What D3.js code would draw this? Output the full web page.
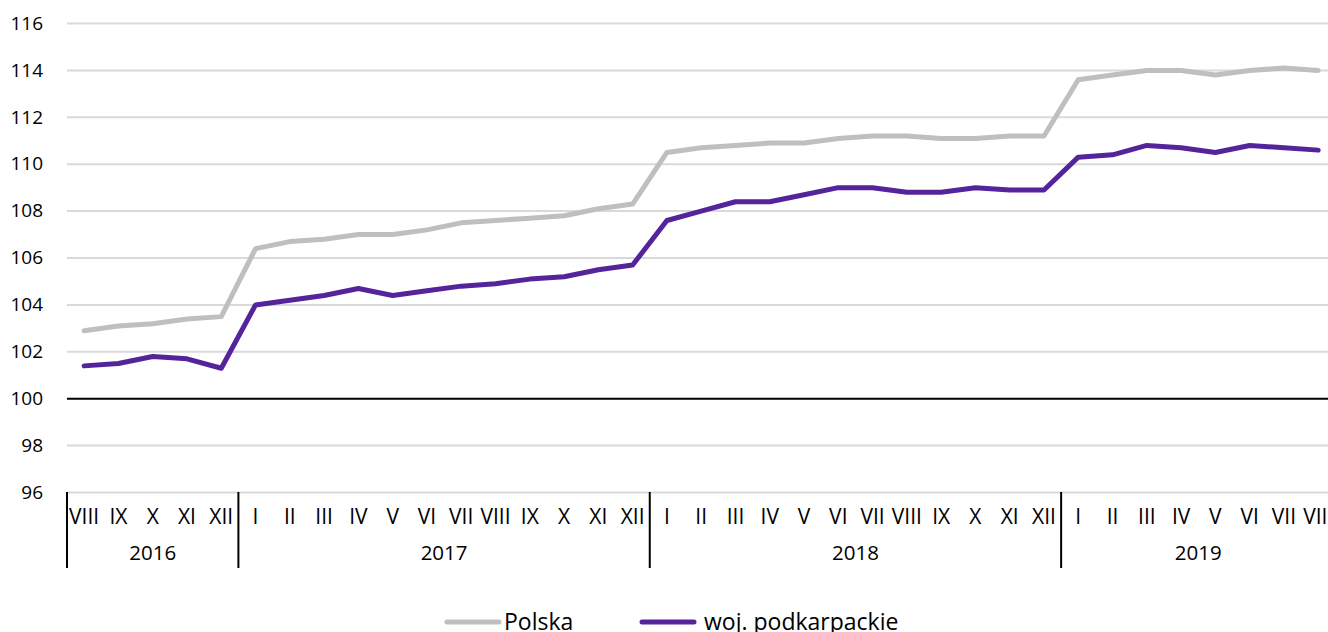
<!DOCTYPE html>
<html><head><meta charset="utf-8">
<script src="https://cdn.jsdelivr.net/npm/d3@7"></script>
<style>html,body{margin:0;padding:0;background:#fff;overflow:hidden}svg{display:block}</style>
</head><body><svg id="c" width="1328" height="632"></svg>
<script>
const years = [
  {year: "2016", months: ["VIII","IX","X","XI","XII"]},
  {year: "2017", months: ["I","II","III","IV","V","VI","VII","VIII","IX","X","XI","XII"]},
  {year: "2018", months: ["I","II","III","IV","V","VI","VII","VIII","IX","X","XI","XII"]},
  {year: "2019", months: ["I","II","III","IV","V","VI","VII","VIII"]}
];
const polska = [102.9,103.1,103.2,103.4,103.5,
  106.4,106.7,106.8,107.0,107.0,107.2,107.5,107.6,107.7,107.8,108.1,108.3,
  110.5,110.7,110.8,110.9,110.9,111.1,111.2,111.2,111.1,111.1,111.2,111.2,
  113.6,113.8,114.0,114.0,113.8,114.0,114.1,114.0];
const podkarpackie = [101.4,101.5,101.8,101.7,101.3,
  104.0,104.2,104.4,104.7,104.4,104.6,104.8,104.9,105.1,105.2,105.5,105.7,
  107.6,108.0,108.4,108.4,108.7,109.0,109.0,108.8,108.8,109.0,108.9,108.9,
  110.3,110.4,110.8,110.7,110.5,110.8,110.7,110.6];
const yTicks = [96,98,100,102,104,106,108,110,112,114,116];
const seriesNames = ["Polska","woj. podkarpackie"];

const cats = [];
years.forEach(y => y.months.forEach(m => cats.push({key: y.year + "-" + m, m, y: y.year})));

const svg = d3.select("#c");
const font = "'Open Sans', 'Noto Sans', sans-serif";
const x0 = 67, bw = 34.28;
const x = d3.scaleBand().domain(cats.map(c => c.key)).range([x0, x0 + bw * cats.length]).paddingInner(0).paddingOuter(0);
const y = d3.scaleLinear().domain([96,116]).range([492.5, 23.5]);

// gridlines
svg.append("g").selectAll("line").data(yTicks).join("line")
  .attr("x1", x0).attr("x2", 1328)
  .attr("y1", d => y(d)).attr("y2", d => y(d))
  .attr("stroke", d => d === 100 ? "#000" : "#d9d9d9")
  .attr("stroke-width", 2);

// y labels
const yAxis = d3.axisLeft(y).tickValues(yTicks).tickSize(0).tickPadding(0).tickFormat(d3.format("d"));
const ya = svg.append("g").attr("transform", "translate(43,0)").call(yAxis);
ya.select(".domain").remove();
ya.selectAll("text").attr("font-family", font).attr("font-size", 19).attr("fill", "#000").attr("dy", "0.3em");

// month labels
const xAxis = d3.axisBottom(x).tickSize(0).tickPadding(0).tickFormat(k => k.split("-")[1]);
const xa = svg.append("g").attr("transform", "translate(0,517)").call(xAxis);
xa.select(".domain").remove();
xa.selectAll("text").attr("font-family", font).attr("font-size", 21).attr("fill", "#000").attr("dy", "0.35em");

// year separators and labels
let idx = 0;
const bounds = [];
years.forEach(yr => { bounds.push({year: yr.year, start: idx, end: idx + yr.months.length}); idx += yr.months.length; });
const sepX = [bounds[0].start].concat(bounds.map(b => b.end));
svg.append("g").selectAll("line").data(sepX.slice(0, 4)).join("line")
  .attr("x1", i => x(cats[i].key)).attr("x2", i => x(cats[i].key))
  .attr("y1", 492).attr("y2", 568).attr("stroke", "#000").attr("stroke-width", 2);
svg.append("g").selectAll("text").data(bounds).join("text")
  .attr("x", b => (x(cats[b.start].key) + x(cats[b.end - 1].key) + x.bandwidth()) / 2)
  .attr("y", 553).attr("dy", "0.35em").attr("text-anchor", "middle")
  .attr("font-family", font).attr("font-size", 20.5).text(b => b.year);

// lines
const line = d3.line().x((d, i) => x(cats[i].key) + x.bandwidth() / 2).y(d => y(d));
const colors = ["#bfbfbf", "#55249b"];
[polska, podkarpackie].forEach((s, k) => {
  svg.append("path").datum(s).attr("d", line).attr("fill", "none")
    .attr("stroke", colors[k]).attr("stroke-width", 5)
    .attr("stroke-linejoin", "round").attr("stroke-linecap", "round");
});

// legend
const leg = [{x1: 447, x2: 499, tx: 504}, {x1: 642, x2: 694, tx: 704}];
leg.forEach((l, k) => {
  svg.append("line").attr("x1", l.x1).attr("x2", l.x2).attr("y1", 622).attr("y2", 622)
    .attr("stroke", colors[k]).attr("stroke-width", 5).attr("stroke-linecap", "round");
  svg.append("text").attr("x", l.tx).attr("y", 630).attr("font-family", font)
    .attr("font-size", 23).attr("fill", "#000").text(seriesNames[k]);
});
</script></body></html>
